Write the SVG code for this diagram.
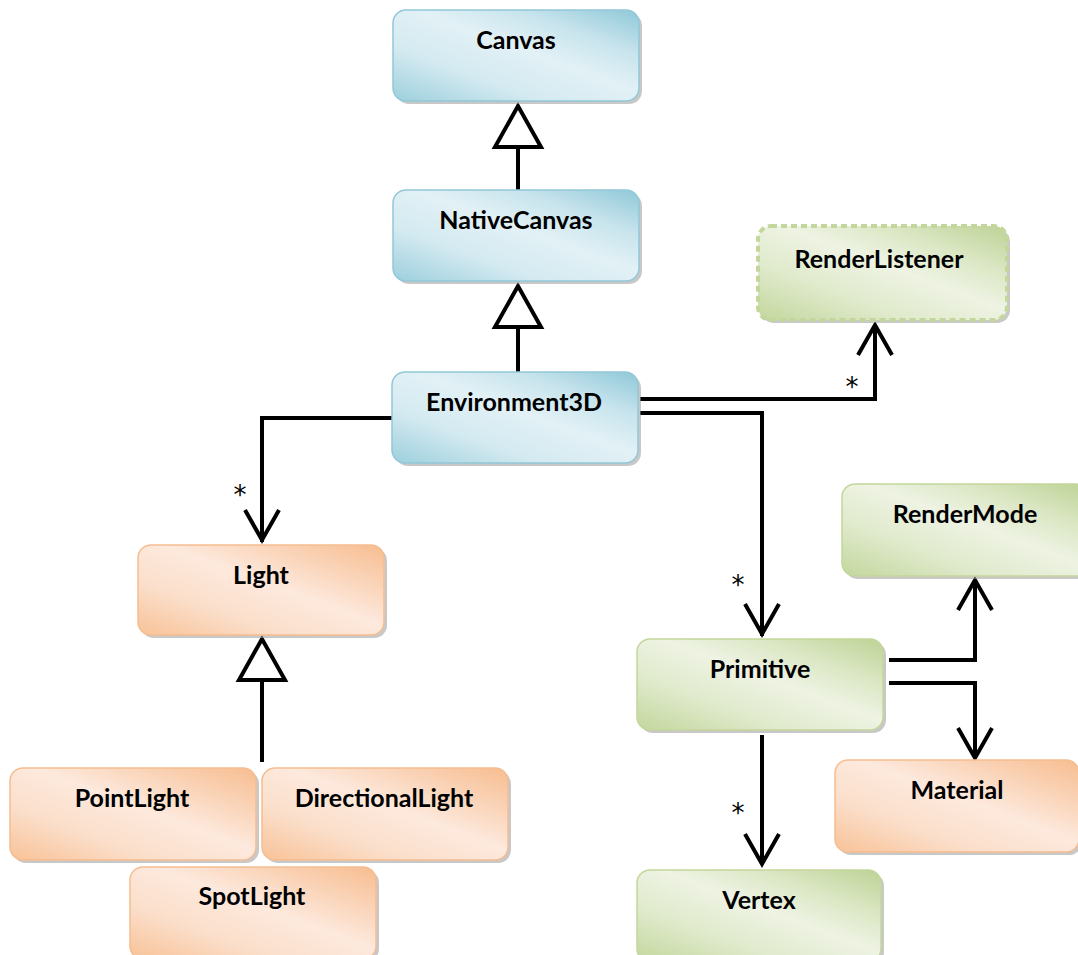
<svg xmlns="http://www.w3.org/2000/svg" width="1078" height="955" viewBox="0 0 1078 955">
<defs>
<linearGradient id="gBlue" x1="0" y1="1" x2="1" y2="0">
<stop offset="0" stop-color="#9ccfdd"/><stop offset="0.3" stop-color="#d4eaf1"/><stop offset="0.55" stop-color="#e2f1f6"/><stop offset="0.75" stop-color="#c8e4ed"/><stop offset="1" stop-color="#8fc8d8"/>
</linearGradient>
<linearGradient id="gOrange" x1="0" y1="1" x2="1" y2="0">
<stop offset="0" stop-color="#f8c297"/><stop offset="0.3" stop-color="#fbdfcb"/><stop offset="0.55" stop-color="#fde9dd"/><stop offset="0.75" stop-color="#fad5ba"/><stop offset="1" stop-color="#f7bd90"/>
</linearGradient>
<linearGradient id="gGreen" x1="0" y1="1" x2="1" y2="0">
<stop offset="0" stop-color="#c3d79d"/><stop offset="0.3" stop-color="#e0eacc"/><stop offset="0.55" stop-color="#eef3e3"/><stop offset="0.75" stop-color="#dbe7c4"/><stop offset="1" stop-color="#bdd295"/>
</linearGradient>
</defs>
<style>
.sh{fill:#9a9a9a;opacity:0.55}
.blue{fill:url(#gBlue);stroke:#93c8d8;stroke-width:1.5}
.orange{fill:url(#gOrange);stroke:#f5bd90;stroke-width:1.5}
.green{fill:url(#gGreen);stroke:#c3d69b;stroke-width:1.5}
.dash{fill:url(#gGreen);stroke:#c3d69b;stroke-width:4;stroke-dasharray:6 4}
.lbl{font-family:Lato,"Liberation Sans",sans-serif;font-weight:bold;font-size:25px;fill:#000;text-anchor:middle}
.ln{fill:none;stroke:#000;stroke-width:4}
.tri{fill:#fff;stroke:#000;stroke-width:4;stroke-linejoin:miter}
.star{font-family:"DejaVu Sans",sans-serif;font-size:26px;fill:#000;text-anchor:middle}
</style>
<g id="connectors">
<line class="ln" x1="518" y1="147" x2="518" y2="190"/>
<polygon class="tri" points="518,106 495,147 541,147"/>
<line class="ln" x1="518" y1="327" x2="518" y2="372"/>
<polygon class="tri" points="518,286 495,327 541,327"/>
<polyline class="ln" points="640,399 875,399 875,325"/>
<polyline class="ln" points="858,355 875,325 892,355"/>
<text class="star" x="852" y="396">*</text>
<polyline class="ln" points="392,418 262,418 262,542"/>
<polyline class="ln" points="245,510 262,540 279,510"/>
<text class="star" x="240" y="504">*</text>
<polyline class="ln" points="640,413 762,413 762,636"/>
<polyline class="ln" points="745,604 762,634 779,604"/>
<text class="star" x="738" y="594">*</text>
<line class="ln" x1="262" y1="680" x2="262" y2="762"/>
<polygon class="tri" points="262,639 239,680 285,680"/>
<polyline class="ln" points="889,660 975,660 975,580"/>
<polyline class="ln" points="958,610 975,580 992,610"/>
<polyline class="ln" points="889,683 975,683 975,758"/>
<polyline class="ln" points="958,728 975,758 992,728"/>
<line class="ln" x1="762" y1="735" x2="762" y2="864"/>
<polyline class="ln" points="745,834 762,864 779,834"/>
<text class="star" x="738" y="822">*</text>
</g>
<g id="Canvas">
<rect class="sh" x="396" y="13" width="246" height="91" rx="13"/>
<rect class="blue" x="393" y="10" width="246" height="91" rx="13"/>
<text class="lbl" x="516" y="49">Canvas</text>
</g>
<g id="NativeCanvas">
<rect class="sh" x="396" y="193" width="246" height="91" rx="13"/>
<rect class="blue" x="393" y="190" width="246" height="91" rx="13"/>
<text class="lbl" x="516" y="229">NativeCanvas</text>
</g>
<g id="Environment3D">
<rect class="sh" x="395" y="375" width="246" height="91" rx="13"/>
<rect class="blue" x="392" y="372" width="246" height="91" rx="13"/>
<text class="lbl" x="514" y="411">Environment3D</text>
</g>
<g id="RenderListener">
<rect class="sh" x="761" y="229" width="249" height="94" rx="13"/>
<rect class="dash" x="758" y="226" width="249" height="94" rx="13"/>
<text class="lbl" x="879" y="268">RenderListener</text>
</g>
<g id="Light">
<rect class="sh" x="141" y="548" width="246" height="90" rx="13"/>
<rect class="orange" x="138" y="545" width="246" height="90" rx="13"/>
<text class="lbl" x="261" y="584">Light</text>
</g>
<g id="Primitive">
<rect class="sh" x="640" y="642" width="246" height="91" rx="13"/>
<rect class="green" x="637" y="639" width="246" height="91" rx="13"/>
<text class="lbl" x="760" y="678">Primitive</text>
</g>
<g id="RenderMode">
<rect class="sh" x="845" y="487" width="246" height="92" rx="13"/>
<rect class="green" x="842" y="484" width="246" height="92" rx="13"/>
<text class="lbl" x="965" y="523">RenderMode</text>
</g>
<g id="Material">
<rect class="sh" x="838" y="763" width="244" height="92" rx="13"/>
<rect class="orange" x="835" y="760" width="244" height="92" rx="13"/>
<text class="lbl" x="957" y="799">Material</text>
</g>
<g id="PointLight">
<rect class="sh" x="13" y="771" width="246" height="92" rx="13"/>
<rect class="orange" x="10" y="768" width="246" height="92" rx="13"/>
<text class="lbl" x="132" y="807">PointLight</text>
</g>
<g id="DirectionalLight">
<rect class="sh" x="265" y="771" width="246" height="92" rx="13"/>
<rect class="orange" x="262" y="768" width="246" height="92" rx="13"/>
<text class="lbl" x="384" y="807">DirectionalLight</text>
</g>
<g id="SpotLight">
<rect class="sh" x="133" y="870" width="246" height="92" rx="13"/>
<rect class="orange" x="130" y="867" width="246" height="92" rx="13"/>
<text class="lbl" x="252" y="905">SpotLight</text>
</g>
<g id="Vertex">
<rect class="sh" x="640" y="873" width="244" height="92" rx="13"/>
<rect class="green" x="637" y="870" width="244" height="92" rx="13"/>
<text class="lbl" x="759" y="909">Vertex</text>
</g>
</svg>
